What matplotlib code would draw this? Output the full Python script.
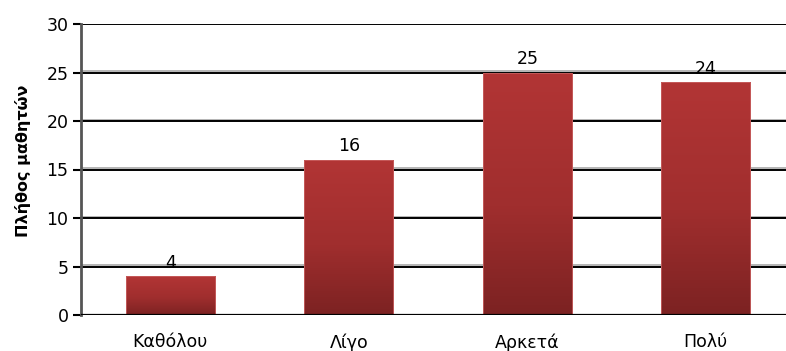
import numpy as np
import matplotlib
matplotlib.use('Agg')
import matplotlib.pyplot as plt
import matplotlib.patheffects as pe
from matplotlib.colors import LinearSegmentedColormap

plt.rcParams['font.family'] = ['DejaVu Sans']

# Survey answers and number of students per answer
categories = ['Καθόλου', 'Λίγο', 'Αρκετά', 'Πολύ']
counts = [4, 16, 25, 24]
yticks = [0, 5, 10, 15, 20, 25, 30]

fig = plt.figure(figsize=(7.86, 3.51), dpi=100)
ax = fig.add_axes([81 / 786, 36 / 351, 714 / 786, 291 / 351])

x = np.arange(len(categories))
bars = ax.bar(x, counts, width=0.5, color='none', edgecolor='#c86060',
              linewidth=0.6, zorder=3)

# vertical red gradient inside each bar, darker at the base
grad = LinearSegmentedColormap.from_list(
    'bar', [(0.0, '#7c2222'), (0.45, '#a02e2e'), (1.0, '#b23535')])
ramp = np.linspace(0, 1, 256).reshape(-1, 1)
for b in bars:
    x0, y0 = b.get_x(), b.get_y()
    im = ax.imshow(ramp, cmap=grad, origin='lower', aspect='auto',
                   extent=(x0, x0 + b.get_width(), y0, y0 + b.get_height()),
                   zorder=2.5)
    im.set_clip_path(b)
    ax.text(b.get_x() + b.get_width() / 2, b.get_height() + 0.45,
            str(int(b.get_height())), ha='center', va='bottom',
            fontsize=12.5, color='black', zorder=4)

ax.set_xlim(-0.5, len(categories) - 0.5)
ax.set_ylim(0, 30)
ax.set_yticks(yticks)
ax.set_xticks(x)
ax.set_xticklabels(categories, fontsize=12.5)
ax.tick_params(axis='x', length=0, pad=13)
ax.tick_params(axis='y', length=6, width=1.5, color='black', labelsize=12.5, pad=3)

for t in yticks[1:]:
    ax.axhline(t, color='black', lw=1.4, zorder=1,
               path_effects=[pe.SimpleLineShadow(offset=(0, 1.0), shadow_color='#b4b4b4', alpha=1),
                             pe.Normal()])
ax.axhline(0, color='black', lw=1.6, zorder=3)

for side in ['top', 'right', 'bottom']:
    ax.spines[side].set_visible(False)
ax.spines['left'].set_color('#555555')
ax.spines['left'].set_linewidth(2)

ax.set_ylabel('Πλήθος μαθητών', fontsize=11.5, fontweight='bold')
ax.yaxis.set_label_coords(-0.070, 0.53)

fig.savefig('out.png', dpi=100)
